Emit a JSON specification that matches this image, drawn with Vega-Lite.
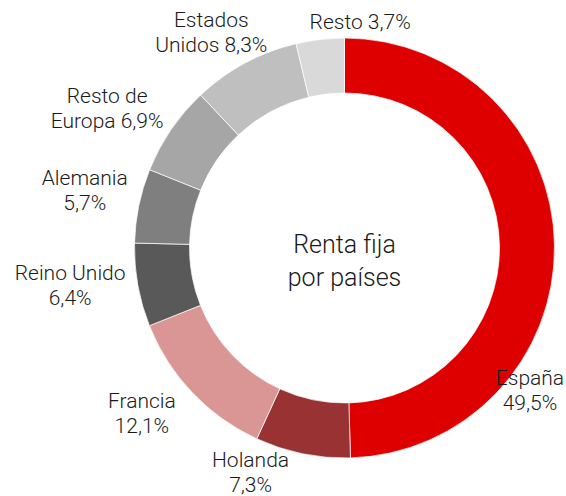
{
  "$schema": "https://vega.github.io/schema/vega-lite/v6.json",
  "width": 443,
  "height": 496,
  "autosize": "none",
  "padding": {"left": 123, "top": 0, "right": 0, "bottom": 0},
  "background": "white",
  "config": {"view": {"stroke": null}, "text": {"font": "Roboto", "fontWeight": 300, "fontSize": 21, "lineHeight": 25, "color": "#1a1a1a", "align": "center", "baseline": "middle", "dy": -12}},
  "data": {"values": [
    {"orden": 1, "pais": "España", "valor": 49.5, "etiqueta": ["España", "49,5%"]},
    {"orden": 2, "pais": "Holanda", "valor": 7.3, "etiqueta": ["Holanda", "7,3%"]},
    {"orden": 3, "pais": "Francia", "valor": 12.1, "etiqueta": ["Francia", "12,1%"]},
    {"orden": 4, "pais": "Reino Unido", "valor": 6.4, "etiqueta": ["Reino Unido", "6,4%"]},
    {"orden": 5, "pais": "Alemania", "valor": 5.7, "etiqueta": ["Alemania", "5,7%"]},
    {"orden": 6, "pais": "Resto de Europa", "valor": 6.9, "etiqueta": ["Resto de", "Europa 6,9%"]},
    {"orden": 7, "pais": "Estados Unidos", "valor": 8.3, "etiqueta": ["Estados", "Unidos 8,3%"]},
    {"orden": 8, "pais": "Resto", "valor": 3.7, "etiqueta": ["Resto 3,7%"]}
  ]},
  "layer": [
    {
      "mark": {"type": "arc", "innerRadius": 155, "outerRadius": 210, "stroke": "white", "strokeWidth": 0.7},
      "encoding": {
        "theta": {"field": "valor", "type": "quantitative", "stack": true},
        "order": {"field": "orden", "type": "quantitative"},
        "color": {"field": "pais", "type": "nominal", "legend": null,
          "scale": {"domain": ["España", "Holanda", "Francia", "Reino Unido", "Alemania", "Resto de Europa", "Estados Unidos", "Resto"],
                    "range": ["#DE0000", "#993333", "#DA9694", "#595959", "#7F7F7F", "#A6A6A6", "#BFBFBF", "#D9D9D9"]}}
      }
    },
    {
      "mark": {"type": "text", "radius": 234, "thetaOffset": 0.67},
      "encoding": {"theta": {"field": "valor", "type": "quantitative", "stack": true}, "order": {"field": "orden", "type": "quantitative"},
        "text": {"condition": {"test": "datum.pais === 'España'", "field": "etiqueta"}, "value": ""}}
    },
    {
      "mark": {"type": "text", "radius": 244, "thetaOffset": 0.194},
      "encoding": {"theta": {"field": "valor", "type": "quantitative", "stack": true}, "order": {"field": "orden", "type": "quantitative"},
        "text": {"condition": {"test": "datum.pais === 'Holanda'", "field": "etiqueta"}, "value": ""}}
    },
    {
      "mark": {"type": "text", "radius": 262, "thetaOffset": 0.073},
      "encoding": {"theta": {"field": "valor", "type": "quantitative", "stack": true}, "order": {"field": "orden", "type": "quantitative"},
        "text": {"condition": {"test": "datum.pais === 'Francia'", "field": "etiqueta"}, "value": ""}}
    },
    {
      "mark": {"type": "text", "radius": 277, "thetaOffset": 0.04},
      "encoding": {"theta": {"field": "valor", "type": "quantitative", "stack": true}, "order": {"field": "orden", "type": "quantitative"},
        "text": {"condition": {"test": "datum.pais === 'Reino Unido'", "field": "etiqueta"}, "value": ""}}
    },
    {
      "mark": {"type": "text", "radius": 266, "thetaOffset": 0.014},
      "encoding": {"theta": {"field": "valor", "type": "quantitative", "stack": true}, "order": {"field": "orden", "type": "quantitative"},
        "text": {"condition": {"test": "datum.pais === 'Alemania'", "field": "etiqueta"}, "value": ""}}
    },
    {
      "mark": {"type": "text", "radius": 275, "thetaOffset": -0.07},
      "encoding": {"theta": {"field": "valor", "type": "quantitative", "stack": true}, "order": {"field": "orden", "type": "quantitative"},
        "text": {"condition": {"test": "datum.pais === 'Resto de Europa'", "field": "etiqueta"}, "value": ""}}
    },
    {
      "mark": {"type": "text", "radius": 253, "thetaOffset": -0.061},
      "encoding": {"theta": {"field": "valor", "type": "quantitative", "stack": true}, "order": {"field": "orden", "type": "quantitative"},
        "text": {"condition": {"test": "datum.pais === 'Estados Unidos'", "field": "etiqueta"}, "value": ""}}
    },
    {
      "mark": {"type": "text", "radius": 228, "thetaOffset": 0.185, "dy": 2},
      "encoding": {"theta": {"field": "valor", "type": "quantitative", "stack": true}, "order": {"field": "orden", "type": "quantitative"},
        "text": {"condition": {"test": "datum.pais === 'Resto'", "field": "etiqueta"}, "value": ""}}
    },
    {
      "data": {"values": [{"titulo": ["Renta fija", "por países"]}]},
      "mark": {"type": "text", "fontSize": 25, "lineHeight": 33, "dy": -3},
      "encoding": {"text": {"field": "titulo"}}
    }
  ]
}
